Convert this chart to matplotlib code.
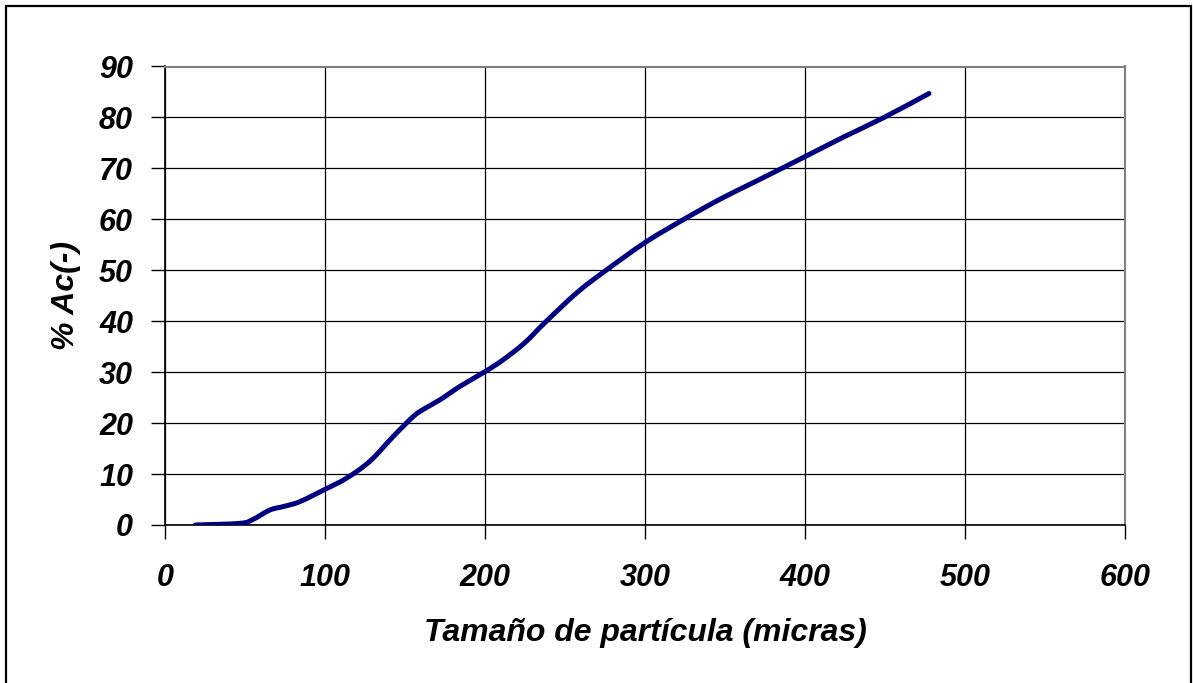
import matplotlib
matplotlib.use("Agg")
import matplotlib.pyplot as plt
from matplotlib.patches import Rectangle, PathPatch
from matplotlib.path import Path

# Data
size_um = [19, 47, 55, 65.6, 75, 84.4, 100, 113.5, 128, 142.7, 155.2, 162, 172,
           184.3, 200, 211.2, 224.6, 238, 258.2, 276.1, 300.8, 325.4, 347.8,
           370.2, 400, 424.4, 449.4, 477.5]
ac_pct = [0.0, 0.33, 1.1, 2.95, 3.7, 4.6, 7.0, 9.2, 12.5, 17.4, 21.3, 22.8, 24.6,
          27.2, 30.1, 32.4, 35.7, 39.9, 45.8, 50.1, 55.6, 60.2, 64.1,
          67.6, 72.3, 76.2, 80.0, 84.7]
x_ticks = [0, 100, 200, 300, 400, 500, 600]
y_ticks = [0, 10, 20, 30, 40, 50, 60, 70, 80, 90]

W, H = 1193, 683
fig = plt.figure(figsize=(W / 100, H / 100), dpi=100)
fig.patch.set_facecolor("white")

# outer chart frame
fig.patches.append(Rectangle((6 / W, -0.01), (1191 - 6) / W, (H - 6) / H + 0.01,
                             transform=fig.transFigure, fill=False,
                             edgecolor="black", linewidth=1.6))

left, right, top, bottom = 165, 1125, 66.5, 525
ax = fig.add_axes([left / W, 1 - bottom / H, (right - left) / W, (bottom - top) / H])


def smooth_path(xs, ys):
    """Excel-style smoothed line: Catmull-Rom segments as cubic Beziers."""
    pts = list(zip(xs, ys))
    n = len(pts)
    verts = [pts[0]]
    codes = [Path.MOVETO]
    for i in range(n - 1):
        p0 = pts[i - 1] if i > 0 else pts[i]
        p1 = pts[i]
        p2 = pts[i + 1]
        p3 = pts[i + 2] if i + 2 < n else pts[i + 1]
        c1 = (p1[0] + (p2[0] - p0[0]) / 6, p1[1] + (p2[1] - p0[1]) / 6)
        c2 = (p2[0] - (p3[0] - p1[0]) / 6, p2[1] - (p3[1] - p1[1]) / 6)
        verts += [c1, c2, p2]
        codes += [Path.CURVE4] * 3
    return Path(verts, codes)


ax.add_patch(PathPatch(smooth_path(size_um, ac_pct), facecolor="none",
                       edgecolor="#000080", linewidth=3.6, capstyle="round",
                       joinstyle="round", zorder=3))

ax.set_xlim(0, 600)
ax.set_ylim(0, 90)
ax.set_xticks(x_ticks)
ax.set_yticks(y_ticks)
ax.grid(True, color="black", linewidth=0.9)
ax.set_axisbelow(True)

font = dict(family="Liberation Sans", weight="bold", style="italic")
ax.set_xticklabels([str(v) for v in x_ticks], fontsize=22, **font)
ax.set_yticklabels([str(v) for v in y_ticks], fontsize=22, **font)
ax.tick_params(axis="both", direction="out", length=10, width=1, color="black")
ax.tick_params(axis="x", pad=17)
ax.tick_params(axis="y", pad=13)

for s in ["left", "bottom"]:
    ax.spines[s].set_color("black")
    ax.spines[s].set_linewidth(1.2)
for s in ["top", "right"]:
    ax.spines[s].set_color("#808080")
    ax.spines[s].set_linewidth(1.5)

fig.text(645 / W, 1 - 633 / H, "Tamaño de partícula (micras)", ha="center", va="center",
         fontsize=23, **font)
fig.text(66 / W, 1 - 295 / H, "% Ac(-)", ha="center", va="center", rotation=90,
         fontsize=23, **font)

fig.savefig("out.png", dpi=100)
